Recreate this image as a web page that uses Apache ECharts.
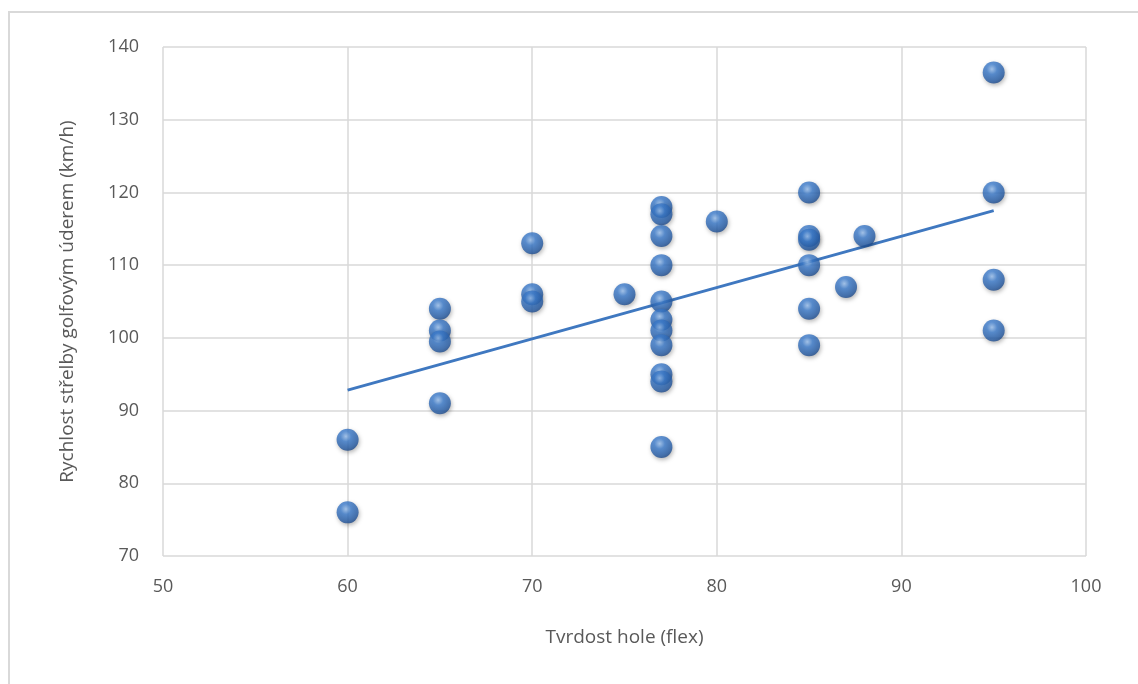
<!DOCTYPE html>
<html>
<head>
<meta charset="utf-8">
<script src="https://cdn.jsdelivr.net/npm/echarts@6/dist/echarts.min.js"></script>
<style>
  html, body { margin: 0; padding: 0; background: #fff; overflow: hidden; }
  #frame { position: absolute; left: 8px; top: 11px; width: 1300px; height: 900px;
           border: 2px solid #d9d9d9; box-sizing: border-box; }
  #chart { position: absolute; left: 0; top: 0; width: 1138px; height: 684px; }
</style>
</head>
<body>
<div id="frame"></div>
<div id="chart"></div>
<script>
// Shaft flex (x) and golf-shot speed in km/h (y)
const flexValues = [
  60, 60,
  65, 65, 65, 65,
  70, 70, 70,
  75,
  77, 77, 77, 77, 77, 77, 77, 77, 77, 77, 77,
  80,
  85, 85, 85, 85, 85, 85,
  87,
  88,
  95, 95, 95, 95
];
const speedValues = [
  86, 76,
  104, 101, 99.5, 91,
  113, 106, 105,
  106,
  118, 117, 114, 110, 105, 102.5, 101, 99, 95, 94, 85,
  116,
  120, 114, 113.5, 110, 104, 99,
  107,
  114,
  136.5, 120, 108, 101
];
const xTicks = [50, 60, 70, 80, 90, 100];
const yTicks = [70, 80, 90, 100, 110, 120, 130, 140];

const xTitle = 'Tvrdost hole (flex)';
const yTitle = 'Rychlost střelby golfovým úderem (km/h)';

// Least-squares linear trendline over the data range
function linearFit(xs, ys) {
  const n = xs.length;
  const mx = xs.reduce((a, b) => a + b, 0) / n;
  const my = ys.reduce((a, b) => a + b, 0) / n;
  let sxy = 0, sxx = 0;
  for (let i = 0; i < n; i++) {
    sxy += (xs[i] - mx) * (ys[i] - my);
    sxx += (xs[i] - mx) * (xs[i] - mx);
  }
  const slope = sxy / sxx;
  return x => my + slope * (x - mx);
}
const fit = linearFit(flexValues, speedValues);
const xMin = Math.min(...flexValues), xMax = Math.max(...flexValues);
const trendPoints = [[xMin, fit(xMin)], [xMax, fit(xMax)]];

const points = flexValues.map((x, i) => [x, speedValues[i]]);

const labelFont = { color: '#595959', fontSize: 18, fontFamily: 'Open Sans, Noto Sans, sans-serif' };
const gridLine = { show: true, lineStyle: { color: '#d9d9d9', width: 1.5 } };

const chart = echarts.init(document.getElementById('chart'), null, { renderer: 'canvas' });
chart.setOption({
  animation: false,
  backgroundColor: 'transparent',
  grid: { left: 163, right: 52, top: 47, bottom: 128, containLabel: false },
  xAxis: {
    type: 'value',
    min: xTicks[0], max: xTicks[xTicks.length - 1], interval: 10,
    axisLine: { show: false },
    axisTick: { show: false },
    splitLine: gridLine,
    axisLabel: Object.assign({ margin: 22 }, labelFont),
    name: xTitle,
    nameLocation: 'middle',
    nameGap: 72,
    nameTextStyle: Object.assign({}, labelFont, { fontSize: 19 })
  },
  yAxis: {
    type: 'value',
    min: yTicks[0], max: yTicks[yTicks.length - 1], interval: 10,
    axisLine: { show: false },
    axisTick: { show: false },
    splitLine: gridLine,
    axisLabel: Object.assign({ margin: 24 }, labelFont),
    name: yTitle,
    nameLocation: 'middle',
    nameGap: 86,
    nameRotate: 90,
    nameTextStyle: Object.assign({}, labelFont, { fontSize: 19 })
  },
  series: [
    {
      type: 'line',
      data: trendPoints,
      symbol: 'none',
      lineStyle: { color: '#3f78c0', width: 3 },
      z: 3,
      silent: true
    },
    {
      type: 'scatter',
      data: points,
      symbol: 'circle',
      symbolSize: 22,
      z: 4,
      itemStyle: {
        color: {
          type: 'radial', x: 0.42, y: 0.35, r: 0.68,
          colorStops: [
            { offset: 0, color: '#9cc3f2' },
            { offset: 0.35, color: '#3d7dce' },
            { offset: 0.8, color: '#275ea8' },
            { offset: 1, color: '#1b4787' }
          ]
        },
        shadowColor: 'rgba(0,0,0,0.35)',
        shadowBlur: 4,
        shadowOffsetX: 1,
        shadowOffsetY: 2
      }
    }
  ]
});
</script>
</body>
</html>
